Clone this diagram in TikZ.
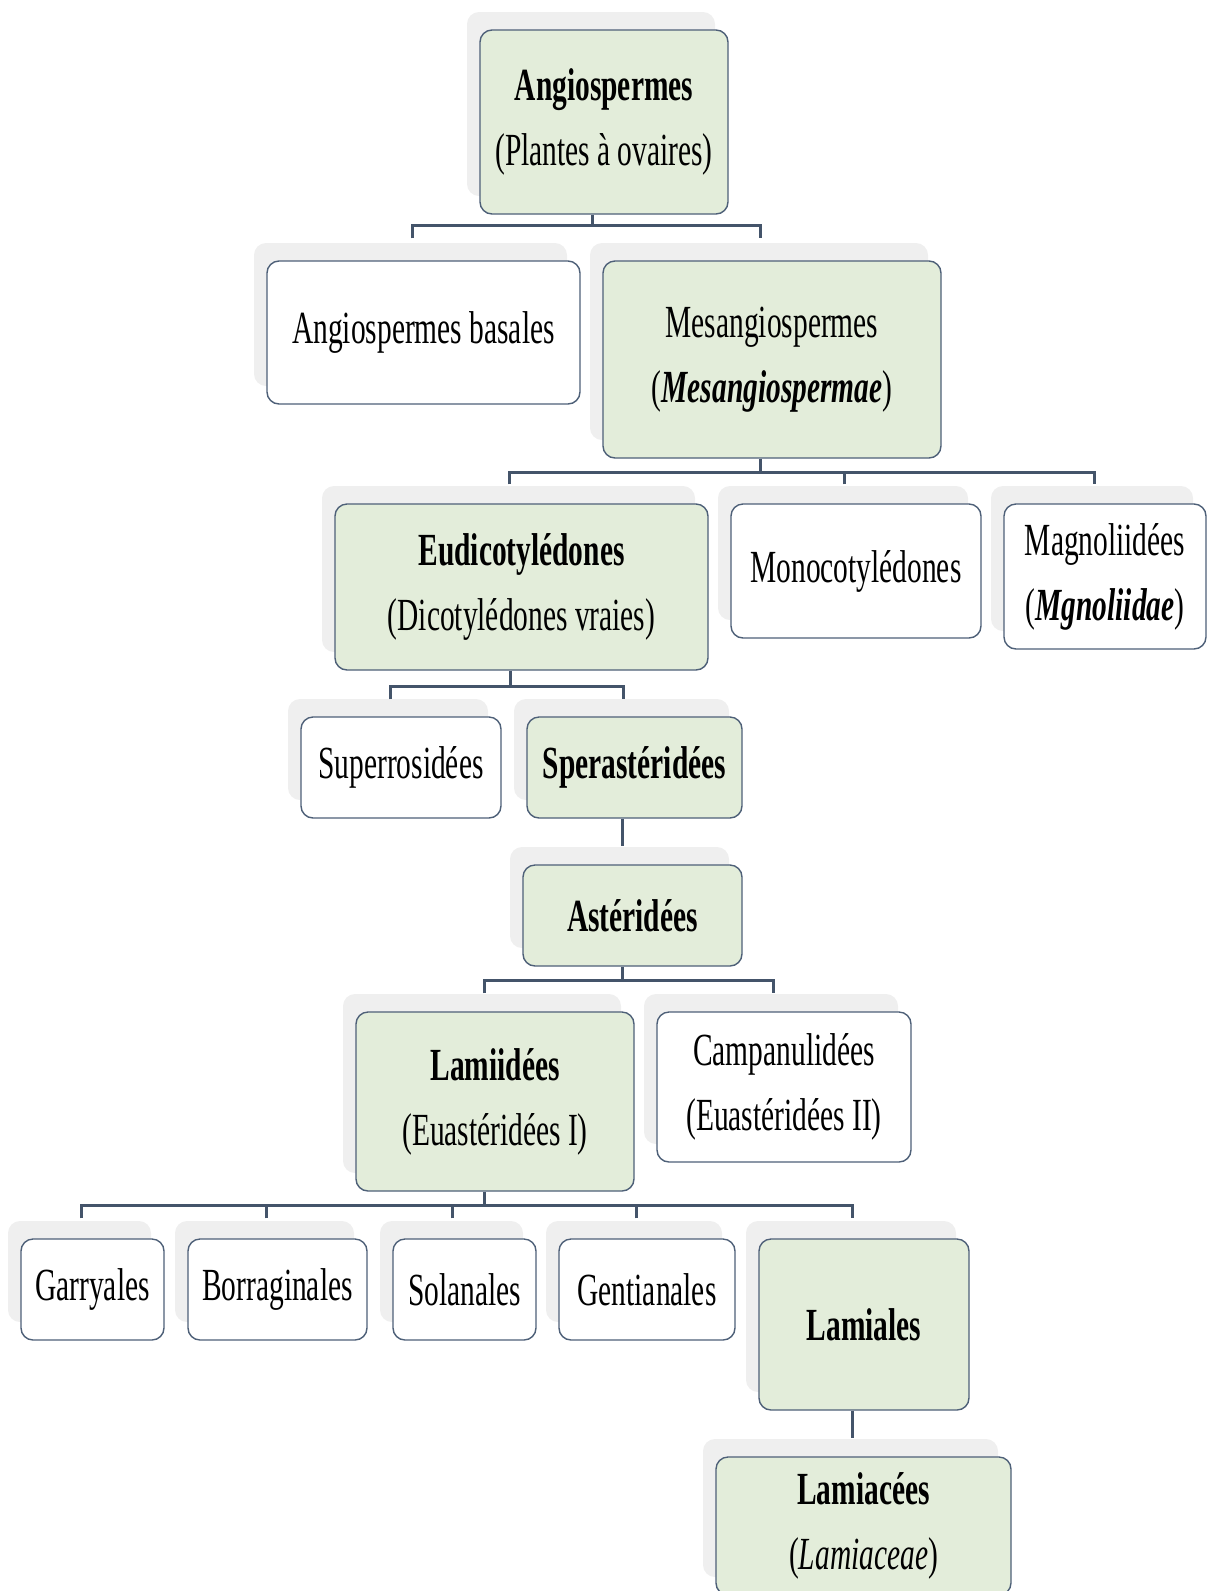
\documentclass[tikz,border=0pt]{standalone}
\usepackage{fontspec}
\setmainfont{Liberation Serif}[FakeStretch=0.64]
\usetikzlibrary{calc,shadows}
\definecolor{leafgreen}{HTML}{E3EDDA}
\definecolor{edgeblue}{HTML}{4E6078}
\definecolor{linkblue}{HTML}{44546A}
\definecolor{shadowgray}{HTML}{EFEFEF}
\tikzset{
  taxon/.style={draw=edgeblue, line width=0.7pt, rounded corners=6pt, fill=white,
    align=center, inner sep=0pt, font=\fontsize{23}{32.5}\selectfont,
    general shadow={fill=shadowgray, shadow xshift=-6.5pt, shadow yshift=9pt}},
  clade/.style={taxon, fill=leafgreen},
  link/.style={draw=linkblue, line width=1.5pt},
}
\begin{document}
\begin{tikzpicture}[x=0.5pt, y=-0.5pt]
  \useasboundingbox (0,0) rectangle (1208,1591);

  \node[clade, minimum width=124pt, minimum height=92pt] (angio) at (604,122)
    {\textbf{Angiospermes}\\(Plantes à ovaires)};
  \node[taxon, minimum width=156.5pt, minimum height=71.5pt] (basales) at (423.5,332.5)
    {Angiospermes basales};
  \node[clade, minimum width=169pt, minimum height=98.5pt] (mesang) at (772,359.5)
    {Mesangiospermes\\(\textbf{\textit{Mesangiospermae}})};
  \node[clade, minimum width=186.5pt, minimum height=83pt] (eudi) at (521.5,587)
    {\textbf{Eudicotylédones}\\(Dicotylédones vraies)};
  \node[taxon, minimum width=125pt, minimum height=67pt] (mono) at (856,571)
    {Monocotylédones};
  \node[taxon, minimum width=101pt, minimum height=72.5pt] (magno) at (1105,576.5)
    {Magnoliidées\\(\textbf{\textit{Mgnoliidae}})};
  \node[taxon, minimum width=100pt, minimum height=50.5pt] (superro) at (401,767.5)
    {Superrosidées};
  \node[clade, minimum width=107.5pt, minimum height=50.5pt] (speras) at (634.5,767.5)
    {\textbf{Sperastéridées}};
  \node[clade, minimum width=109.5pt, minimum height=50.5pt] (aster) at (632.5,915.5)
    {\textbf{Astéridées}};
  \node[clade, minimum width=139pt, minimum height=89.5pt] (lamii) at (495,1101.5)
    {\textbf{Lamiidées}\\(Euastéridées I)};
  \node[taxon, minimum width=127pt, minimum height=75pt] (campa) at (784,1087)
    {Campanulidées\\(Euastéridées II)};
  \node[taxon, minimum width=71.5pt, minimum height=50.5pt] (garry) at (92.5,1289.5)
    {Garryales};
  \node[taxon, minimum width=89.5pt, minimum height=50.5pt] (borra) at (277.5,1289.5)
    {Borraginales};
  \node[taxon, minimum width=71.5pt, minimum height=50.5pt] (solan) at (464.5,1289.5)
    {Solanales};
  \node[taxon, minimum width=88pt, minimum height=50.5pt] (genti) at (647,1289.5)
    {Gentianales};
  \node[clade, minimum width=105pt, minimum height=85.5pt] (lamiales) at (864,1324.5)
    {\textbf{Lamiales}};
  \node[clade, minimum width=147.5pt, minimum height=69pt] (lamiac) at (863.5,1526)
    {\textbf{Lamiacées}\\(\textit{Lamiaceae})};

  \coordinate (bus1) at ($(angio.south)+(-12,11)$);
  \draw[link] ($(angio.south)+(-12,0)$) -- (bus1);
  \draw[link] ($(basales.north)+(-11.5,-22)$) |- (bus1) -| ($(mesang.north)+(-11.5,-22)$);

  \coordinate (bus2) at ($(mesang.south)+(-11.5,14)$);
  \draw[link] ($(mesang.south)+(-11.5,0)$) -- (bus2);
  \draw[link] ($(eudi.north)+(-12,-19)$) |- (bus2) -| ($(magno.north)+(-10.5,-19)$);
  \draw[link] ($(mono.north)+(-12,-19)$) -- ($(mono.north)+(-12,-32)$);

  \coordinate (bus3) at ($(eudi.south)+(-11.5,16)$);
  \draw[link] ($(eudi.south)+(-11.5,0)$) -- (bus3);
  \draw[link] ($(superro.north)+(-10.5,-17)$) |- (bus3) -| ($(speras.north)+(-11.5,-17)$);

  \draw[link] ($(speras.south)+(-12.5,0)$) -- ($(aster.north)+(-10.5,-18)$);

  \coordinate (bus4) at ($(aster.south)+(-10.5,14)$);
  \draw[link] ($(aster.south)+(-10.5,0)$) -- (bus4);
  \draw[link] ($(lamii.north)+(-11,-18)$) |- (bus4) -| ($(campa.north)+(-11,-18)$);

  \coordinate (bus5) at ($(lamii.south)+(-11,14)$);
  \draw[link] ($(lamii.south)+(-11,0)$) -- (bus5);
  \draw[link] ($(garry.north)+(-11.5,-20)$) |- (bus5) -| ($(lamiales.north)+(-12,-20)$);
  \draw[link] ($(borra.north)+(-11.5,-20)$) -- ($(borra.north)+(-11.5,-34)$);
  \draw[link] ($(solan.north)+(-12.5,-20)$) -- ($(solan.north)+(-12.5,-34)$);
  \draw[link] ($(genti.north)+(-11,-20)$) -- ($(genti.north)+(-11,-34)$);

  \draw[link] ($(lamiales.south)+(-12,0)$) -- ($(lamiac.north)+(-11.5,-18)$);
\end{tikzpicture}
\end{document}
